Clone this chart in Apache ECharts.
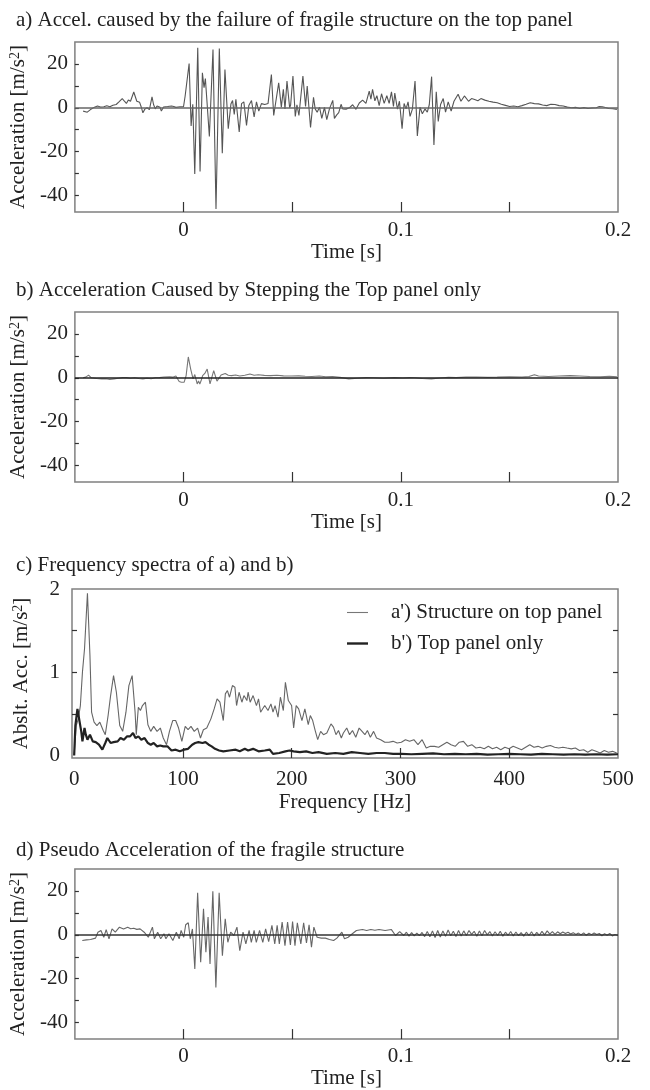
<!DOCTYPE html>
<html><head><meta charset="utf-8">
<script src="https://cdn.jsdelivr.net/npm/echarts@6/dist/echarts.min.js"></script>
<style>html,body{margin:0;padding:0;background:#fff}#c{width:650px;height:1090px}</style>
</head><body><div id="c"></div>
<script>
const FONT = 'Liberation Serif';
const panelTitles = [
  'a) Accel. caused by the failure of fragile structure on the top panel',
  'b) Acceleration Caused by Stepping the Top panel only',
  'c) Frequency spectra of a) and b)',
  'd) Pseudo Acceleration of the fragile structure'
];
const timeLabelValues = [0, 0.1, 0.2];
const timeTickValues = [0, 0.05, 0.1, 0.15];
const accLabelValues = [-40, -20, 0, 20];
const accTickValues = [-40, -30, -20, -10, 0, 10, 20];
const freqLabelValues = [0, 100, 200, 300, 400, 500];
const freqTickValues = [100, 200, 300, 400];
const specLabelValues = [0, 1, 2];
const specTickValues = [0.5, 1, 1.5];
const legendNames = ["a') Structure on top panel", "b') Top panel only"];

const accelA = [[-0.0462,-1.5],[-0.0443,-2.0],[-0.0424,-0.5],[-0.0410,0.3],[-0.0396,0.8],[-0.0382,0.4],[-0.0367,0.5],[-0.0353,0.9],[-0.0339,0.5],[-0.0325,1.2],[-0.0310,1.5],[-0.0296,2.8],[-0.0282,4.2],[-0.0272,3.0],[-0.0263,2.0],[-0.0254,3.6],[-0.0244,3.0],[-0.0229,7.2],[-0.0215,3.0],[-0.0202,2.5],[-0.0195,0.5],[-0.0187,-2.3],[-0.0178,-0.6],[-0.0168,0],[-0.0157,-0.8],[-0.0145,5.0],[-0.0138,1.5],[-0.0130,-0.5],[-0.0122,0.8],[-0.0115,1.5],[-0.0108,0.2],[-0.0102,-1.5],[-0.0092,0.4],[-0.0083,1.0],[-0.0073,0.6],[-0.0064,0.2],[-0.0055,0.8],[-0.0045,0.6],[-0.0035,0.2],[-0.0026,0.3],[-0.0016,0.5],[-0.0007,0.6],[0.0000,0.5],[0.00075,5.4],[0.00258,20.2],[0.0035,-8.3],[0.00426,1.6],[0.00518,-30.2],[0.00655,27.4],[0.00762,-29],[0.00869,16],[0.00945,9.2],[0.01006,13.3],[0.01083,2.4],[0.0119,-13.1],[0.01357,26.6],[0.01495,-46.1],[0.01648,27],[0.01785,-20.7],[0.01907,17.5],[0.0206,-9.5],[0.02182,1.7],[0.02258,3.3],[0.02335,-3],[0.02411,3.9],[0.02564,-11],[0.02671,1.9],[0.02777,2.7],[0.029,-8],[0.03006,1],[0.03129,3.3],[0.03251,-4.2],[0.03358,2.7],[0.03465,-1.5],[0.03587,1.9],[0.03739,1.5],[0.03892,2],[0.04045,15.2],[0.04152,-3.5],[0.04243,-4.2],[0.04381,11.4],[0.04503,0.3],[0.04595,8.4],[0.04671,-0.5],[0.04763,12.2],[0.04885,0],[0.0493,1.2],[0.05037,14.5],[0.05144,-3.9],[0.05221,1.4],[0.05312,-3.5],[0.05496,14.5],[0.05618,0.6],[0.05694,9.9],[0.05847,-9],[0.05984,4.8],[0.06061,-0.5],[0.06152,-2],[0.06259,0.3],[0.06366,-4.8],[0.06488,0.2],[0.06595,-5.4],[0.06717,-0.5],[0.0687,3.4],[0.06946,-4.8],[0.07053,-3.2],[0.07145,-2.2],[0.07252,1.6],[0.07328,-0.5],[0.07481,-0.6],[0.07633,0],[0.07786,1.4],[0.07939,-0.7],[0.08091,2.2],[0.08244,3.5],[0.08397,2],[0.08549,7.6],[0.08626,4],[0.08702,8.4],[0.08809,3.2],[0.08901,5.5],[0.09007,1],[0.09115,6.4],[0.09236,2],[0.09359,5.5],[0.09466,2],[0.09573,7.3],[0.09664,0.6],[0.09725,6.7],[0.09848,-0.6],[0.09939,3],[0.10061,-9.5],[0.10153,2],[0.10244,-0.5],[0.10336,2.7],[0.10428,-3.9],[0.10535,-0.6],[0.10657,12.2],[0.10764,-12.8],[0.10886,0.3],[0.10993,-2.7],[0.11115,-0.5],[0.11222,-2],[0.11313,1.4],[0.1142,14.2],[0.11527,-17],[0.11634,7.3],[0.11726,-6.2],[0.11832,1.5],[0.11955,4.2],[0.12061,-2],[0.12184,2.7],[0.1232,-1.5],[0.1245,3],[0.1264,6.2],[0.1277,3],[0.1293,5.4],[0.1312,3],[0.1326,4.2],[0.1340,3.8],[0.1355,3.2],[0.1369,4.2],[0.1387,3.5],[0.1406,3],[0.1425,2.6],[0.1444,2.3],[0.1463,1.6],[0.1482,1.1],[0.1501,0.6],[0.1520,0.8],[0.1539,0.5],[0.1558,1],[0.1577,1.6],[0.1596,2.3],[0.1615,1.9],[0.1634,1.8],[0.1653,1.3],[0.1672,1],[0.1691,1.6],[0.1710,1.5],[0.1729,1.0],[0.1748,0.8],[0.1767,0.3],[0.1786,0],[0.1805,0.2],[0.1824,-0.3],[0.1843,0.1],[0.1862,-0.3],[0.1881,-0.1],[0.1900,0],[0.1914,0.6],[0.1928,0.5],[0.1942,0.1],[0.1957,-0.3],[0.1976,-0.4],[0.1995,-0.7]];

const accelB = [[-0.0462,0],[-0.0450,0.3],[-0.0437,1.2],[-0.0430,0.5],[-0.0424,0],[-0.0400,-0.3],[-0.0377,-0.5],[-0.0358,-0.4],[-0.0339,-0.8],[-0.0320,-0.5],[-0.0300,-0.2],[-0.0280,0.1],[-0.0263,0.1],[-0.0244,-0.2],[-0.0225,0],[-0.0206,-0.3],[-0.0187,-0.5],[-0.0168,-0.2],[-0.0149,-0.4],[-0.0130,0],[-0.0111,0.1],[-0.0090,0.4],[-0.0064,0.5],[-0.0050,0.3],[-0.0035,0.8],[-0.0020,-1.7],[-0.0010,-2.0],[0.0003,-2],[0.0012,1],[0.0022,9.5],[0.0033,4],[0.0044,-0.5],[0.0052,1.5],[0.0063,-2.8],[0.0069,-1.5],[0.0075,-2.8],[0.0082,-1.0],[0.0088,1],[0.0098,2],[0.0109,4],[0.0122,-2.8],[0.0139,3.3],[0.0154,-1.5],[0.0173,1.3],[0.0192,2],[0.0206,1.2],[0.0221,1],[0.0240,1.3],[0.0259,0.8],[0.0282,1.2],[0.0306,1.7],[0.0325,1.2],[0.0344,1.4],[0.0372,1.1],[0.0401,1],[0.0430,1.2],[0.0460,0.9],[0.0496,0.8],[0.0530,0.9],[0.0560,0.7],[0.0591,0.6],[0.0625,0.8],[0.0655,0.5],[0.0686,0.6],[0.0720,0.2],[0.0761,-0.5],[0.0800,-0.2],[0.0840,0.1],[0.0875,0],[0.0920,-0.2],[0.0970,0.1],[0.1010,-0.1],[0.1040,0.1],[0.1065,0],[0.1100,-0.3],[0.1141,-0.5],[0.1180,-0.1],[0.1220,0.2],[0.1255,0.1],[0.1300,0.3],[0.1350,0.4],[0.1400,0.2],[0.1444,0.3],[0.1500,0.5],[0.1558,0.4],[0.1590,0.6],[0.1615,1.4],[0.1634,0.8],[0.1680,0.6],[0.1729,0.8],[0.1780,1.0],[0.1824,0.8],[0.1870,0.6],[0.1919,0.5],[0.1960,0.7],[0.1995,0.5]];

const spectrumA = [[0,0.01],[1.9,0.36],[3.8,0.44],[5.7,0.6],[7.6,1.0],[9.5,1.28],[12.2,1.95],[14.5,1.2],[16.0,0.52],[18.3,0.4],[20.9,0.36],[23.6,0.4],[26.7,0.3],[28.6,0.25],[31.2,0.48],[33.5,0.72],[36.2,0.96],[38.8,0.76],[41.9,0.36],[44.6,0.29],[47.6,0.52],[50.3,0.84],[53.3,0.96],[56.0,0.52],[57.1,0.25],[59.0,0.58],[60.9,0.54],[62.8,0.6],[65.5,0.64],[67.8,0.37],[70.4,0.29],[73.1,0.35],[76.2,0.29],[79.2,0.33],[81.9,0.21],[84.9,0.13],[87.6,0.29],[90.6,0.42],[93.3,0.42],[96.0,0.33],[99.0,0.17],[102.1,0.35],[104.7,0.31],[107.4,0.35],[110.4,0.29],[113.5,0.33],[116.1,0.21],[118.8,0.31],[121.9,0.33],[125.7,0.44],[128.7,0.56],[131.4,0.68],[134.0,0.64],[137.1,0.42],[139.0,0.74],[140.9,0.78],[142.8,0.7],[145.5,0.84],[147.8,0.82],[149.3,0.6],[151.6,0.76],[154.2,0.64],[156.1,0.72],[158.8,0.66],[159.9,0.76],[161.8,0.64],[164.5,0.72],[167.6,0.6],[169.5,0.68],[171.4,0.52],[175.2,0.6],[178.2,0.54],[180.9,0.62],[182.8,0.52],[184.7,0.6],[187.4,0.46],[189.6,0.7],[192.3,0.54],[194.2,0.88],[196.9,0.66],[199.9,0.6],[201.8,0.33],[204.1,0.6],[206.4,0.56],[209.4,0.42],[212.1,0.56],[215.2,0.37],[217.1,0.48],[219.3,0.42],[221.6,0.3],[223.9,0.19],[226.6,0.29],[229.2,0.25],[232.3,0.27],[236.1,0.38],[238.4,0.34],[240.7,0.25],[243.0,0.3],[245.6,0.21],[247.5,0.27],[250.6,0.33],[253.2,0.25],[255.9,0.3],[258.9,0.22],[262.0,0.33],[264.7,0.29],[267.3,0.25],[269.6,0.3],[272.3,0.22],[275.3,0.29],[278.0,0.21],[281.8,0.19],[285.6,0.16],[289.4,0.16],[293.2,0.17],[297.0,0.15],[300.8,0.16],[304.6,0.19],[308.4,0.17],[312.3,0.19],[316.1,0.13],[319.9,0.19],[323.7,0.09],[327.5,0.11],[331.3,0.11],[335.1,0.1],[338.9,0.13],[342.7,0.16],[346.5,0.13],[350.3,0.11],[354.1,0.16],[357.9,0.17],[361.8,0.11],[365.6,0.13],[369.4,0.09],[373.2,0.1],[377.0,0.08],[380.8,0.11],[384.6,0.08],[388.4,0.1],[392.2,0.07],[396.0,0.1],[399.8,0.08],[403.6,0.11],[407.5,0.09],[411.3,0.07],[415.1,0.1],[418.9,0.13],[422.7,0.1],[426.5,0.11],[430.3,0.09],[434.1,0.11],[437.9,0.12],[441.7,0.1],[445.5,0.09],[449.3,0.1],[453.1,0.09],[457.0,0.08],[460.8,0.09],[464.6,0.06],[468.4,0.07],[472.2,0.04],[476.0,0.07],[479.8,0.05],[483.6,0.03],[487.4,0.06],[491.2,0.04],[495.0,0.05],[498.8,0.03]];

const spectrumB = [[0,0],[1.1,0.36],[3.0,0.56],[4.6,0.58],[6.5,0.29],[7.6,0.17],[9.5,0.33],[10.7,0.25],[12.2,0.19],[14.5,0.25],[17.1,0.17],[19.8,0.16],[22.8,0.13],[25.9,0.07],[28.6,0.15],[30.5,0.21],[33.5,0.15],[36.2,0.16],[40.0,0.17],[42.6,0.21],[45.7,0.19],[48.7,0.23],[51.4,0.23],[54.1,0.27],[56.4,0.21],[59.0,0.23],[61.7,0.19],[64.7,0.21],[67.8,0.15],[70.4,0.13],[73.1,0.15],[76.2,0.11],[79.2,0.12],[81.9,0.11],[85.7,0.11],[89.5,0.06],[93.3,0.07],[97.1,0.05],[100.9,0.07],[104.7,0.08],[108.5,0.13],[111.2,0.15],[114.2,0.16],[118.0,0.15],[120.7,0.16],[123.7,0.13],[126.4,0.11],[129.5,0.08],[133.3,0.06],[137.1,0.05],[142.8,0.06],[148.5,0.07],[152.3,0.05],[156.9,0.08],[159.9,0.06],[164.5,0.08],[169.5,0.05],[175.2,0.06],[179.8,0.07],[182.8,0.02],[188.5,0.03],[194.2,0.05],[198.0,0.06],[201.8,0.05],[207.5,0.04],[213.3,0.05],[219.0,0.03],[224.7,0.04],[232.3,0.02],[240.0,0.03],[247.5,0.02],[255.2,0.04],[262.8,0.03],[270.4,0.02],[278.0,0.03],[285.6,0.03],[293.2,0.02],[300.8,0.02],[310.0,0.015],[320.0,0.02],[330.0,0.025],[340.0,0.015],[350.0,0.02],[360.0,0.015],[370.0,0.02],[380.0,0.01],[390.0,0.015],[400.0,0.02],[410.0,0.015],[420.0,0.01],[430.0,0.02],[440.0,0.015],[450.0,0.01],[460.0,0.015],[470.0,0.01],[480.0,0.015],[490.0,0.01],[500.0,0.015]];

const accelD = [[-0.0466,-2.6],[-0.0447,-2.3],[-0.0428,-2.1],[-0.0405,-1.5],[-0.0394,1.2],[-0.038,2.0],[-0.0367,-1.1],[-0.0356,2.4],[-0.0343,-1.8],[-0.0329,2.7],[-0.0314,1.2],[-0.0295,3.5],[-0.0276,2.7],[-0.0257,3.5],[-0.0243,2.8],[-0.0229,3.0],[-0.0215,2.5],[-0.02,2.7],[-0.0181,1.2],[-0.0162,-1.1],[-0.0143,3.5],[-0.0134,-1.8],[-0.0119,1.2],[-0.0105,-1.8],[-0.009,0.5],[-0.0081,-1.8],[-0.0067,0.5],[-0.0049,-2.6],[-0.0033,1.2],[-0.002,-1.8],[-0.0011,2.0],[0.0001,-1.1],[0.001,4.6],[0.0022,5.5],[0.0031,-1.8],[0.0041,2.7],[0.0052,-15.6],[0.0065,19.2],[0.0079,-12.5],[0.0092,11.9],[0.0103,-7.9],[0.0113,8.1],[0.0122,-13.3],[0.0135,19.8],[0.0149,-24],[0.0164,19.2],[0.0179,-9.5],[0.0192,7.3],[0.0204,-3.4],[0.0217,1.2],[0.0232,-0.3],[0.0246,3.5],[0.0259,-7.2],[0.0274,1.2],[0.0287,-4.1],[0.0302,2.0],[0.0312,-3.4],[0.0325,2.0],[0.0335,-3.4],[0.035,2.0],[0.0365,-3.4],[0.0378,2.7],[0.0392,-3.1],[0.0407,4.3],[0.042,-4.1],[0.0431,4.3],[0.0441,-4.1],[0.0454,5.8],[0.0467,-4.9],[0.0479,5.8],[0.0492,-4.6],[0.0502,6.1],[0.0513,-4.9],[0.0524,5.5],[0.054,-4.1],[0.0553,5.5],[0.0566,-3.7],[0.0578,4.6],[0.0589,-5.6],[0.06,3.5],[0.0615,-1.1],[0.0634,-1.5],[0.0653,-1.5],[0.0672,-2.1],[0.0691,-2.6],[0.0706,-1.5],[0.0729,1.2],[0.0741,-1.8],[0.0758,-1.1],[0.0777,0.5],[0.0796,2.0],[0.0824,2.4],[0.0843,2.0],[0.0862,2.4],[0.0881,2.1],[0.09,2.4],[0.0928,2.0],[0.0957,2.4],[0.0976,-0.3],[0.0995,1.5],[0.1014,-0.3],[0.1026,1.2],[0.1038,-0.6],[0.1050,1.0],[0.1062,-0.5],[0.1074,0.8],[0.1086,-0.4],[0.1098,1.1],[0.1110,-0.8],[0.1122,1.5],[0.1134,-0.9],[0.1146,1.8],[0.1158,-1.2],[0.1170,2.0],[0.1182,-1.0],[0.1194,1.8],[0.1206,-0.6],[0.1218,2.2],[0.1230,-0.4],[0.1242,1.6],[0.1254,-0.8],[0.1266,2.0],[0.1278,-0.5],[0.1290,1.8],[0.1302,-0.3],[0.1314,2.0],[0.1326,0.2],[0.1338,1.6],[0.1350,-0.6],[0.1362,1.8],[0.1374,-0.4],[0.1386,2.0],[0.1398,0.0],[0.1410,1.5],[0.1422,-0.5],[0.1434,1.4],[0.1446,-0.3],[0.1458,1.6],[0.1470,-0.6],[0.1482,1.2],[0.1494,-0.2],[0.1506,1.5],[0.1518,-0.5],[0.1530,1.3],[0.1542,-0.4],[0.1554,1.0],[0.1566,-0.6],[0.1578,1.2],[0.1590,-0.3],[0.1602,1.4],[0.1614,-0.5],[0.1626,1.1],[0.1638,-0.2],[0.1650,1.6],[0.1662,0.0],[0.1674,1.8],[0.1686,0.3],[0.1698,1.5],[0.1710,0.2],[0.1722,1.4],[0.1734,0.5],[0.1746,1.3],[0.1758,0.6],[0.1770,1.2],[0.1782,0.4],[0.1794,1.0],[0.1806,0.2],[0.1818,0.8],[0.1830,0.0],[0.1842,0.9],[0.1854,-0.2],[0.1866,0.7],[0.1878,0.1],[0.1890,0.8],[0.1902,0.2],[0.1914,0.6],[0.1926,-0.4],[0.1938,0.5],[0.1950,-0.2],[0.1962,0.6],[0.1974,-0.5],[0.1986,0.2],[0.2000,-0.3]];

const chart = echarts.init(document.getElementById('c'), null, {renderer: 'canvas'});
const FS = 21;
const txt = {fontFamily: FONT, fontSize: FS, color: '#222'};
const nameRich = {
  a: {fontFamily: FONT, fontSize: FS, color: '#222'},
  s: {fontFamily: FONT, fontSize: 14, color: '#222', verticalAlign: 'top', lineHeight: 18}
};
const L = 72, W = 546;
const gridTops = [42, 312, 589, 869];
const gridHeights = [170, 170, 169, 171];
const titleTops = [5, 275, 550, 835];

function timeX(i, nameGap, labelMargin) {
  return {gridIndex: i, type: 'value', min: -0.05, max: 0.2,
    axisLine: {show: false, onZero: false}, splitLine: {show: false},
    axisTick: {show: true, inside: true, length: 10, customValues: timeTickValues, lineStyle: {color: '#333', width: 1.2}},
    axisLabel: {customValues: timeLabelValues, margin: labelMargin, ...txt},
    name: 'Time [s]', nameLocation: 'middle', nameGap: nameGap, nameTextStyle: {...txt}};
}
function accY(i) {
  return {gridIndex: i, type: 'value', min: -47.5, max: 30,
    axisLine: {show: false, onZero: false}, splitLine: {show: false},
    axisTick: {show: true, inside: true, length: 4, customValues: accTickValues, lineStyle: {color: '#333', width: 1.2}},
    axisLabel: {customValues: accLabelValues, margin: 7, ...txt},
    name: '{a|Acceleration [m/s}{s|2}{a|]}', nameLocation: 'middle', nameGap: 40,
    nameTextStyle: {...txt, rich: nameRich}};
}
function zeroLine(color) {
  return {silent: true, symbol: 'none', label: {show: false}, animation: false,
    lineStyle: {type: 'solid', color: color, width: 1.6}, data: [{yAxis: 0}]};
}

const option = {
  animation: false,
  backgroundColor: '#fff',
  title: panelTitles.map((t, i) => ({text: t, left: 11, top: titleTops[i], textStyle: {...txt, fontWeight: 'normal'}})),
  grid: gridTops.map((t, i) => ({left: L, top: t, width: W, height: gridHeights[i], show: true, borderColor: '#808080', borderWidth: 1.5, backgroundColor: 'transparent'})),
  legend: {show: true, orient: 'vertical', left: 342, top: 597, itemWidth: 21, itemHeight: 14, itemGap: 10,
    symbolKeepAspect: true,
    data: [
      {name: legendNames[0], icon: 'path://M0,0H21V1.1H0Z', itemStyle: {color: '#777'}},
      {name: legendNames[1], icon: 'path://M0,0H21V2.4H0Z', itemStyle: {color: '#222'}}
    ],
    textStyle: {...txt, padding: [0, 0, 0, 18]}},
  xAxis: [
    timeX(0, 28, 8),
    timeX(1, 28, 8),
    {gridIndex: 2, type: 'value', min: -2, max: 500,
      axisLine: {show: false, onZero: false}, splitLine: {show: false},
      axisTick: {show: true, inside: true, length: 10, customValues: freqTickValues, lineStyle: {color: '#333', width: 1.2}},
      axisLabel: {customValues: freqLabelValues, margin: 11, ...txt},
      name: 'Frequency [Hz]', nameLocation: 'middle', nameGap: 34, nameTextStyle: {...txt}},
    timeX(3, 28, 7)
  ],
  yAxis: [
    accY(0), accY(1),
    {gridIndex: 2, type: 'value', min: -0.03, max: 2,
      axisLine: {show: false, onZero: false}, splitLine: {show: false},
      axisTick: {show: true, inside: true, length: 5, customValues: specTickValues, lineStyle: {color: '#333', width: 1.2}},
      axisLabel: {customValues: specLabelValues, margin: 12, ...txt},
      name: '{a|Abslt. Acc. [m/s}{s|2}{a|]}', nameLocation: 'middle', nameGap: 40,
      nameTextStyle: {...txt, rich: nameRich}},
    accY(3),
    {gridIndex: 2, type: 'value', position: 'right', min: -0.03, max: 2,
      axisLine: {show: false, onZero: false}, splitLine: {show: false},
      axisTick: {show: true, inside: true, length: 5, customValues: specTickValues, lineStyle: {color: '#333', width: 1.2}},
      axisLabel: {show: false}}
  ],
  series: [
    {type: 'line', xAxisIndex: 0, yAxisIndex: 0, data: accelA, showSymbol: false, symbol: 'none',
      lineStyle: {color: '#555', width: 1.1}, markLine: zeroLine('#666'), z: 3},
    {type: 'line', xAxisIndex: 1, yAxisIndex: 1, data: accelB, showSymbol: false, symbol: 'none',
      lineStyle: {color: '#777', width: 1.1}, markLine: zeroLine('#222'), z: 3},
    {type: 'line', name: legendNames[0], xAxisIndex: 2, yAxisIndex: 2, data: spectrumA, showSymbol: false, symbol: 'none',
      lineStyle: {color: '#666', width: 1.1}, itemStyle: {color: '#666'}, z: 3},
    {type: 'line', name: legendNames[1], xAxisIndex: 2, yAxisIndex: 2, data: spectrumB, showSymbol: false, symbol: 'none',
      lineStyle: {color: '#222', width: 2.2}, itemStyle: {color: '#222'}, z: 4},
    {type: 'line', xAxisIndex: 3, yAxisIndex: 3, data: accelD, showSymbol: false, symbol: 'none',
      lineStyle: {color: '#666', width: 1.1}, markLine: zeroLine('#333'), z: 3}
  ]
};
chart.setOption(option);
</script>
</body></html>
